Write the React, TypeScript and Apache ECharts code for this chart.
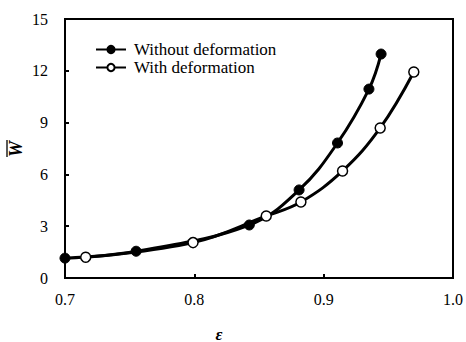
import React, { useEffect, useRef } from "react";
import * as echarts from "echarts";

const withoutX = [0.7, 0.755, 0.8425, 0.881, 0.9107, 0.935, 0.9444];
const withoutY = [1.15, 1.55, 3.07, 5.1, 7.82, 10.94, 12.97];
const withX = [0.716, 0.799, 0.8556, 0.8824, 0.9146, 0.9437, 0.9697];
const withY = [1.2, 2.05, 3.59, 4.4, 6.2, 8.69, 11.93];
const seriesNames = ["Without deformation", "With deformation"];
const xTicks = [0.7, 0.8, 0.9, 1.0];
const yTicks = [0, 3, 6, 9, 12, 15];

const FONT = "Liberation Serif";

export default function App() {
  const ref = useRef<HTMLDivElement>(null);
  useEffect(() => {
    if (!ref.current) return;
    const chart = echarts.init(ref.current, null, { renderer: "svg" });
    const toPairs = (xs: number[], ys: number[]) => xs.map((x, i) => [x, ys[i]]);
    const labelStyle = {
      fontFamily: FONT,
      fontSize: 16,
      fontWeight: "normal",
      color: "#000",
    };
    chart.setOption({
      animation: false,
      backgroundColor: "#fff",
      textStyle: { fontFamily: FONT },
      grid: {
        left: 65,
        right: 10,
        top: 19,
        bottom: 64,
        show: true,
        borderColor: "#000",
        borderWidth: 2,
      },
      legend: {
        left: 90,
        top: 36,
        orient: "vertical",
        itemGap: 1,
        itemWidth: 30,
        itemHeight: 9,
        textStyle: { fontFamily: FONT, fontSize: 17, color: "#000", padding: [0, 0, 0, 3] },
        data: seriesNames,
      },
      xAxis: {
        type: "value",
        min: xTicks[0],
        max: xTicks[xTicks.length - 1],
        interval: 0.1,
        axisLine: { lineStyle: { color: "#000", width: 2 } },
        axisTick: { inside: true, length: 4, lineStyle: { color: "#000", width: 2 } },
        splitLine: { show: false },
        axisLabel: {
          ...labelStyle,
          margin: 13,
          formatter: (v: number) => v.toFixed(1),
        },
      },
      yAxis: {
        type: "value",
        min: yTicks[0],
        max: yTicks[yTicks.length - 1],
        interval: 3,
        axisLine: { lineStyle: { color: "#000", width: 2 } },
        axisTick: { inside: true, length: 4, lineStyle: { color: "#000", width: 2 } },
        splitLine: { show: false },
        axisLabel: { ...labelStyle, margin: 17 },
      },
      graphic: [
        {
          type: "text",
          x: 219,
          y: 334,
          style: {
            text: "ε",
            font: `italic bold 17px "Liberation Serif"`,
            fill: "#000",
            align: "center",
            verticalAlign: "middle",
          },
        },
        {
          type: "group",
          x: 16,
          y: 149,
          rotation: Math.PI / 2,
          children: [
            {
              type: "text",
              x: 0,
              y: 0,
              style: {
                text: "W",
                font: `italic bold 18px "Liberation Serif"`,
                fill: "#000",
                align: "center",
                verticalAlign: "middle",
              },
            },
            {
              type: "line",
              shape: { x1: -8, y1: -9, x2: 9, y2: -9 },
              style: { stroke: "#000", lineWidth: 1.3 },
            },
          ],
        },
      ],
      series: [
        {
          name: seriesNames[0],
          type: "line",
          smooth: 0.4,
          data: toPairs(withoutX, withoutY),
          symbol: "circle",
          symbolSize: 10,
          itemStyle: { color: "#000", borderColor: "#000", borderWidth: 1 },
          lineStyle: { color: "#000", width: 3 },
          z: 3,
        },
        {
          name: seriesNames[1],
          type: "line",
          smooth: 0.4,
          data: toPairs(withX, withY),
          symbol: "circle",
          symbolSize: 10,
          itemStyle: { color: "#fff", borderColor: "#000", borderWidth: 1.5 },
          lineStyle: { color: "#000", width: 3 },
          z: 4,
        },
      ],
    });
    return () => chart.dispose();
  }, []);
  return (
    <div
      ref={ref}
      style={{ position: "fixed", left: 0, top: 0, width: 466, height: 342 }}
    />
  );
}
